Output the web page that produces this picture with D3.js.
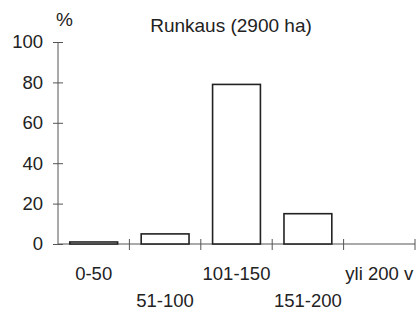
<!DOCTYPE html>
<html>
<head>
<meta charset="utf-8">
<script src="https://cdn.jsdelivr.net/npm/d3@7"></script>
<style>
  body { margin: 0; background: #fff; }
  svg text { font-family: "Liberation Sans", Arial, sans-serif; fill: #222; }
</style>
</head>
<body>
<svg id="svg" width="420" height="315"></svg>
<script>
// luokat ja osuudet (%)
var categories = ["0-50", "51-100", "101-150", "151-200", "yli 200 v"];
var values = [1, 5, 79, 15, 0];
var yTicks = [0, 20, 40, 60, 80, 100];
var title = "Runkaus (2900 ha)";

var svg = d3.select("svg"),
    plotLeft = 58, plotRight = 415,
    plotTop = 42, plotBottom = 244;

var x = d3.scaleBand()
    .domain(categories)
    .range([plotLeft, plotRight])
    .paddingInner(0.33)
    .paddingOuter(0.165);

var y = d3.scaleLinear()
    .domain([0, 100])
    .range([plotBottom, plotTop]);

// y axis, ticks cross the line
var yAxis = svg.append("g")
    .attr("transform", "translate(" + plotLeft + ",0)")
    .call(d3.axisLeft(y).tickValues(yTicks).tickSize(5).tickPadding(10));
yAxis.select(".domain").remove();
yAxis.selectAll(".tick line").attr("x1", -5).attr("x2", 5).attr("stroke", "#555");
yAxis.selectAll(".tick text")
    .style("font-size", "18.5px")
    .style("font-family", "'Liberation Sans', Arial, sans-serif")
    .attr("fill", "#222");
yAxis.append("line")
    .attr("x1", 0).attr("x2", 0)
    .attr("y1", y(100)).attr("y2", y(0))
    .attr("stroke", "#555");

// x axis line
svg.append("line")
    .attr("x1", plotLeft).attr("x2", plotRight)
    .attr("y1", y(0)).attr("y2", y(0))
    .attr("stroke", "#555");

// category boundaries
var bounds = categories.map(function (c) {
    return x(c) - x.step() * x.paddingInner() / 2;
});
bounds.push(plotRight);
svg.selectAll(".xtick")
    .data(bounds.slice(1))
    .enter().append("line")
    .attr("class", "xtick")
    .attr("x1", function (d) { return d; })
    .attr("x2", function (d) { return d; })
    .attr("y1", y(0) - 5)
    .attr("y2", y(0) + 6)
    .attr("stroke", "#555");

// bars
svg.selectAll(".bar")
    .data(values)
    .enter().append("rect")
    .attr("class", "bar")
    .attr("x", function (d, i) { return x(categories[i]); })
    .attr("y", function (d) { return y(d); })
    .attr("width", x.bandwidth())
    .attr("height", function (d) { return y(0) - y(d); })
    .attr("fill", "#fff")
    .attr("stroke", "#222")
    .attr("stroke-width", 1.6)
    .style("display", function (d) { return d > 0 ? null : "none"; });

// staggered category labels
svg.selectAll(".xlabel")
    .data(categories)
    .enter().append("text")
    .attr("class", "xlabel")
    .attr("x", function (d) { return x(d) + x.bandwidth() / 2; })
    .attr("y", function (d, i) { return i % 2 == 0 ? 280 : 307; })
    .attr("text-anchor", "middle")
    .style("font-size", "18.5px")
    .text(function (d) { return d; });

// title and unit
svg.append("text")
    .attr("x", 231)
    .attr("y", 32)
    .attr("text-anchor", "middle")
    .style("font-size", "19px")
    .text(title);

svg.append("text")
    .attr("x", 56)
    .attr("y", 26)
    .style("font-size", "19px")
    .text("%");
</script>
</body>
</html>
